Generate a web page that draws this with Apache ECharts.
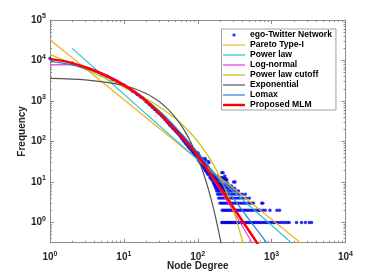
<!DOCTYPE html>
<html><head><meta charset="utf-8">
<script src="https://cdn.jsdelivr.net/npm/echarts@6/dist/echarts.min.js"></script>
<style>html,body{margin:0;padding:0;background:#fff}#c{width:382px;height:273px}</style>
</head><body><div id="c"></div>
<script>
// ---- Data ----
// Empirical frequencies for node degree 1..100
const headFreq = [11200,8700,6650,5600,4580,4080,3400,3090,2660,2490,
2150,1990,1740,1650,1460,1390,1240,1200,1090,960,
925,820,795,710,690,620,610,545,540,488,
482,440,428,391,384,350,345,312,309,283,
290,252,266,235,244,211,222,197,207,181,
190,168,179,156,166,146,154,134,142,121,
138,115,128,104,120,113,95,109,88,101,
84,97,93,76,89,71,84,81,66,78,
63,74,70,57,68,55,65,52,62,60,
48,57,46,55,44,53,51,41,49,39];
// Scattered band points [degree, frequency] above degree 100
const bandPoints = [[101,52],[101,36],[103,47],[104,33],[105,44],[107,38],[108,30],[110,40],[111,28],[112,35],
[114,31],[115,26],[116,37],[118,29],[119,23],[120,31],[122,26],[123,21],[124,29],[125,38],[126,24],[127,19],
[128,35],[129,22],[131,18],[132,26],[134,21],[135,16],[136,24],[138,19],[139,32],[140,15],[142,30],[143,21],
[145,17],[146,13],[148,19],[150,15],[151,12],[153,18],[155,14],[157,11],[158,16],[160,13],[162,10],[164,15],
[166,12],[168,9],[170,14],[172,11],[175,13],[177,8],[180,12],[183,10],[186,14],[188,7],[191,11],[194,9],
[197,12],[200,8],[204,11],[208,13],[212,17],[220,17],[214,12],[218,11],[224,13],[228,12],[232,14],[236,11],
[242,12],[248,11],[305,10],[320,10]];
// Low-frequency rows: degrees observed with each small frequency
const rowF9 = [165,172,180,190,200,212,226,240,255];
const rowF8 = [170,178,187,197,208,220,233,248,265,285];
const rowF7 = [175,184,193,203,214,226,240,255,272,292,315];
const rowF6 = [180,189,199,210,222,235,250,266,285,305,330,355];
const rowF5 = [186,196,207,219,232,246,262,280,300,322,346,372,400,440];
const rowF4 = [192,203,215,228,242,258,275,294,315,338,362,390,420,455,500];
const rowF3 = [200,210,221,233,246,260,275,291,308,326,346,368,392,418,446,476,510,548,565,735,760];
const rowF2 = [214,224,234,245,257,270,284,299,315,332,350,370,391,414,438,464,492,522,555,590,628,670,695,760,820,950,1180,1280];
const rowF1 = [211,218,226,234,242,251,260,270,280,291,302,314,327,340,354,369,385,402,420,439,459,480,503,527,552,579,608,639,672,707,745,785,828,874,923,975,1030,1090,1160,1240,1330,1430,1540,1650,1730,2170,2540,2860,3230,3470];

// Fitted model curves sampled at these degrees
const curveDegrees = [1,1.778,3.162,5.623,10,17.78,31.62,56.23,100,177.8,316.2,562.3,1000];
const mlmFreq     = [10965,9120,6607,4266,2455,1202,457,151,43.7,10,2.09,0.436,0.091];
const lomaxFreq   = [9550,8128,6166,4074,2399,1259,525,178,52.5,14.1,3.55,0.871,0.219];
const lognormFreq = [7762,7943,6761,4571,2630,1259,479,151,44.7,8.91,1.66,0.282,0.04];
const cutoffFreq  = [14125,9120,5754,3631,2188,1288,676,302,100,19.95,1.585,0.0245,0.00002];
const expDegrees  = [1,3,10,20,30,40,50,60,70,80,90,100,120,140,160,180,200,220];
const expFreq     = [3631,3319,2410,1528,968,614,389,247,156,99,62.8,39.8,16.0,6.43,2.58,1.04,0.417,0.168];
const paretoDegrees = [1,10000];
const paretoFreq    = [32359,0.0396];
const powerDegrees  = [2,10000];
const powerFreq     = [19953,0.0204];

const seriesNames = ['ego-Twitter Network','Pareto Type-I','Power law','Log-normal','Power law cutoff','Exponential','Lomax','Proposed MLM'];

// ---- build ----
const scatterData = headFreq.map((f,i)=>[i+1,f]).concat(bandPoints);
[[9,rowF9],[8,rowF8],[7,rowF7],[6,rowF6],[5,rowF5],[4,rowF4],[3,rowF3],[2,rowF2],[1,rowF1]].forEach(([f,row])=>row.forEach(d=>scatterData.push([d,f])));
const zip = (xs,ys)=>xs.map((x,i)=>[x,ys[i]]);

const FONT = '"Liberation Sans", Arial, Helvetica, sans-serif';
const TXT = '#262626';
const AX = '#8c8c8c';
function supLabel(v){
  const e = Math.log10(v), r = Math.round(e);
  if (Math.abs(e-r) > 1e-6) return '';
  return '{b|10}{s|' + r + '}';
}
const rich = {
  b:{fontSize:10,fontWeight:'bold',fontFamily:FONT,color:TXT,lineHeight:14},
  s:{fontSize:7,fontWeight:'bold',fontFamily:FONT,color:TXT,lineHeight:14,verticalAlign:'top'}
};
function axisBase(extra){
  return Object.assign({
    type:'log', logBase:10,
    axisLine:{show:true,onZero:false,lineStyle:{color:AX,width:1}},
    axisTick:{show:true,inside:true,length:4,lineStyle:{color:AX}},
    minorTick:{show:true,splitNumber:9,length:2,lineStyle:{color:AX}},
    splitLine:{show:false}, minorSplitLine:{show:false}
  }, extra);
}
const line = (name,data,color,width,smooth)=>({type:'line',name,data,symbol:'none',showSymbol:false,smooth:smooth?0.3:false,
  lineStyle:{color,width},itemStyle:{color},clip:true,z:3});
const thinIcon = 'path://M0,0M22,10M0,4.4h22v1.2h-22z';
const thickIcon = 'path://M0,0M22,10M0,3.8h22v2.4h-22z';

const chart = echarts.init(document.getElementById('c'),null,{renderer:'canvas'});
chart.setOption({
  animation:false,
  backgroundColor:'#fff',
  grid:{left:50,right:36.5,top:20,bottom:30.3,containLabel:false,outerBoundsMode:'none'},
  xAxis:[
    axisBase({position:'bottom',min:1,max:10000,
      name:'Node Degree',nameLocation:'middle',nameGap:18.5,nameMoveOverlap:false,
      nameTextStyle:{fontSize:10,fontWeight:'bold',fontFamily:FONT,color:TXT},
      axisLabel:{show:true,margin:8,formatter:supLabel,rich,showMinLabel:true,showMaxLabel:true}}),
    axisBase({position:'top',min:1,max:10000,axisLabel:{show:false}})
  ],
  yAxis:[
    axisBase({position:'left',min:0.316227766,max:100000,
      name:'Frequency',nameLocation:'middle',nameGap:23,nameMoveOverlap:false,
      nameTextStyle:{fontSize:10,fontWeight:'bold',fontFamily:FONT,color:TXT},
      axisLabel:{show:true,margin:4,formatter:supLabel,rich}}),
    axisBase({position:'right',min:0.316227766,max:100000,axisLabel:{show:false}})
  ],
  legend:{
    orient:'vertical',left:221.5,top:29,padding:[1,4,0,1.5],
    itemWidth:22,itemHeight:10,itemGap:0,
    borderColor:'#a0a0a0',borderWidth:1,backgroundColor:'#fff',
    selectedMode:false,
    textStyle:{fontSize:8.6,fontWeight:'bold',fontFamily:FONT,color:'#000',lineHeight:10},
    data:[{name:seriesNames[0],icon:'path://M0,0M22,10M9.6,3.6h2.8v2.8h-2.8z'}]
      .concat(seriesNames.slice(1,7).map(n=>({name:n,icon:thinIcon})))
      .concat([{name:seriesNames[7],icon:thickIcon}])
  },
  series:[
    {type:'scatter',name:seriesNames[0],data:scatterData,symbol:'circle',symbolSize:3.4,
      itemStyle:{color:'#0000e6'},z:2},
    line(seriesNames[1],zip(paretoDegrees,paretoFreq),'#EDB120',1.2,false),
    line(seriesNames[2],zip(powerDegrees,powerFreq),'#22c6cc',1.2,false),
    line(seriesNames[3],zip(curveDegrees,lognormFreq),'#e03ce0',1.2,true),
    line(seriesNames[4],zip(curveDegrees,cutoffFreq),'#c8c000',1.2,true),
    line(seriesNames[5],zip(expDegrees,expFreq),'#555555',1.2,true),
    line(seriesNames[6],zip(curveDegrees,lomaxFreq),'#2a80d2',1.2,true),
    line(seriesNames[7],zip(curveDegrees,mlmFreq),'#ff0000',2.5,true)
  ]
});
</script></body></html>
